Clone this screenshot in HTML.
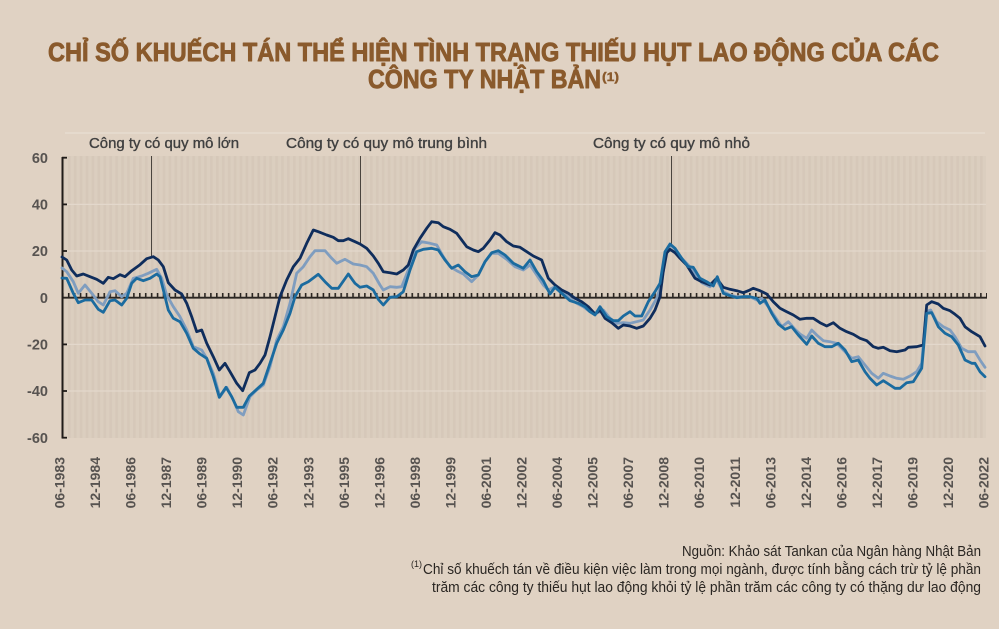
<!DOCTYPE html>
<html><head><meta charset="utf-8"><style>
html,body{margin:0;padding:0;background:#e0d2c3;}
svg{display:block;}
text{font-family:"Liberation Sans",sans-serif;}
</style></head><body>
<svg width="999" height="629" viewBox="0 0 999 629" xmlns="http://www.w3.org/2000/svg">
<defs>
<pattern id="st" x="62" y="0" width="5.923" height="10" patternUnits="userSpaceOnUse">
<rect x="0" y="0" width="5.923" height="10" fill="#dbcebf"/>
<rect x="0" y="0" width="2.6" height="10" fill="#d6c8b9"/>
</pattern>
<pattern id="tk" x="62" y="293" width="5.923" height="5" patternUnits="userSpaceOnUse">
<rect x="0" y="0" width="1.6" height="5" fill="#2b2622"/>
</pattern>
</defs>
<rect width="999" height="629" fill="#e0d2c3"/>

<!-- Title -->
<g fill="#8a5a2c" stroke="#8a5a2c" stroke-width="0.9" stroke-linejoin="round">
<text x="48" y="61" font-size="26" font-weight="bold" textLength="891" lengthAdjust="spacingAndGlyphs">CHỈ SỐ KHUẾCH TÁN THỂ HIỆN TÌNH TRẠNG THIẾU HỤT LAO ĐỘNG CỦA CÁC</text>
<text x="368" y="88" font-size="26" font-weight="bold" textLength="233" lengthAdjust="spacingAndGlyphs">CÔNG TY NHẬT BẢN</text>
<text x="602" y="81" font-size="12" font-weight="bold" stroke-width="0.4" textLength="17" lengthAdjust="spacingAndGlyphs">(1)</text>
</g>

<!-- top faint line -->
<line x1="65" y1="133" x2="985" y2="133" stroke="#e8ded3" stroke-width="1.2"/>

<!-- annotation labels -->
<g font-size="14.5" fill="#404040" stroke="#404040" stroke-width="0.35">
<text x="89" y="148" textLength="150" lengthAdjust="spacingAndGlyphs">Công ty có quy mô lớn</text>
<text x="286" y="148" textLength="201" lengthAdjust="spacingAndGlyphs">Công ty có quy mô trung bình</text>
<text x="593" y="148" textLength="157" lengthAdjust="spacingAndGlyphs">Công ty có quy mô nhỏ</text>
</g>

<!-- plot background -->
<rect x="62" y="156" width="924" height="282" fill="url(#st)"/>
<g stroke="#e3d8cc" stroke-width="1.2">
<line x1="62" y1="204.4" x2="986" y2="204.4"/>
<line x1="62" y1="251" x2="986" y2="251"/>
<line x1="62" y1="344.4" x2="986" y2="344.4"/>
<line x1="62" y1="391" x2="986" y2="391"/>
</g>

<!-- annotation vertical lines -->
<g stroke="#3a3530" stroke-width="0.9">
<line x1="151.5" y1="156" x2="151.5" y2="257"/>
<line x1="360.5" y1="156" x2="360.5" y2="244"/>
<line x1="671.5" y1="156" x2="671.5" y2="247"/>
</g>

<!-- zero line with ticks -->
<rect x="62" y="293" width="925" height="5" fill="url(#tk)"/>
<line x1="62" y1="297.7" x2="987" y2="297.7" stroke="#2b2622" stroke-width="1.8"/>

<!-- y axis -->
<line x1="62.5" y1="157" x2="62.5" y2="438.5" stroke="#1f1b18" stroke-width="2"/>
<g stroke="#1f1b18" stroke-width="1.8">
<line x1="62" y1="157.7" x2="67" y2="157.7"/>
<line x1="62" y1="204.4" x2="67" y2="204.4"/>
<line x1="62" y1="251" x2="67" y2="251"/>
<line x1="62" y1="344.4" x2="67" y2="344.4"/>
<line x1="62" y1="391" x2="67" y2="391"/>
<line x1="62" y1="437.7" x2="67" y2="437.7"/>
</g>
<g font-size="14.5" font-weight="bold" fill="#575350" text-anchor="end">
<text x="48" y="163">60</text>
<text x="48" y="209.5">40</text>
<text x="48" y="256">20</text>
<text x="48" y="303">0</text>
<text x="48" y="349.5">-20</text>
<text x="48" y="396">-40</text>
<text x="48" y="443">-60</text>
</g>

<!-- series -->
<g fill="none" stroke-width="2.8" stroke-linejoin="round" stroke-linecap="round">
<polyline stroke="#7f9dbf" points="62,268 66.7,271.7 73.3,281.7 78.3,293.3 85,285 91.7,293.3 98.3,301.7 103.3,305 110,291.7 115,290.7 121.7,296.7 126.7,293.3 133.3,278.3 141.7,276 148.3,273.3 156.7,269.3 161.7,278.3 166.7,295 173.3,306.7 180,316.7 186.7,330 193.3,346.7 201.7,350 206.7,358.3 213.3,373.3 220,396.7 226.7,387.3 233.3,400 238.3,411.7 243.3,415 250,396.7 256.7,390 263.3,385 270,366.7 276.7,340 283.3,326.7 290,303.3 296.7,273.3 303.3,266.7 310,256.7 315,250.7 325,250.7 331.7,258.3 336.7,263.3 345,259.3 353.3,264 360,265 366.7,266.7 373.3,273.3 380,285 383.3,290 390,286.7 396.7,287.3 401.7,286.7 408.3,270 415,248.3 421.7,241.7 430,243.3 436.7,245 443.3,256.7 450,266.7 456.7,270.7 463.3,274 471.7,281.7 478.3,275 485,261.7 491.7,253.3 498.3,253.3 506.7,259.3 515,266.7 523.3,270 530,265 536.7,275 543.3,285 548.3,290 555,286.7 561.7,291.7 570,298.3 576.7,303.3 583.3,306.7 590,311.7 596.7,313.3 603.3,310 610,318.3 616.7,323.3 623.3,322.7 630,323.3 636.7,321.7 643.3,320 650,310 656.7,298.3 661.7,283.3 666,251.7 671,245 675,249.3 681.7,258.3 688.3,265 695,273.3 701.7,282.7 710,286.7 716.7,280 723.3,291.7 730,295 736.7,296.7 743.3,296.7 750,296.7 756.7,300 761.7,298.3 768.3,306.7 775,316.7 781.7,326.7 788.3,321.7 795,329.3 800,334 806.7,338.3 811.7,330 816.7,335 823.3,340.7 830,341.7 836.7,343.3 843.3,350 851.7,358.3 858.3,356.7 865,365 871.7,373.3 878.3,378.3 883.3,373.3 890,376 896.7,378.3 903.3,379.3 910,376 916.7,371.7 921.7,363.3 926,311.7 930.7,310 936.7,321.7 943.3,326.7 950,330 955,336.7 961.7,348.3 968.3,351.7 975,351.7 980,360 985,367.3"/>
<polyline stroke="#0f2d5c" points="62,257 66.7,260 71.7,270 76.7,276 83.3,274 90,276.7 96.7,279.3 103.3,283.3 108.3,277.3 113.3,278.7 120,274.7 125,276.7 131.7,270.7 140,264.7 146.7,258.7 153.3,256.7 158.3,260 163.3,266.7 168.3,282.7 175,290 181.7,294 186.7,303.3 191.7,316.7 196.7,331.7 201.7,330 206.7,343.3 213.3,356.7 219.3,370 225,363.3 230,371.7 236.7,383.3 242.7,390.7 249.3,372.7 255,370 260,363.3 265,355 270,336.7 275,316.7 280,296.7 286.7,280 293.3,266.7 300,258.3 306.7,243.3 313.3,230 318.3,231.7 326.7,235 333.3,237.3 338.3,240.7 343.3,240.7 348.3,238.7 355,241.7 360,244 366.7,248.3 373.3,256 378.3,263.3 383.3,271.7 390,272.7 396.7,274 403.3,270 408.3,265 413.3,250 420,238.3 426.7,228.3 431.7,221.7 438.3,222.7 443.3,226.7 450,229.3 456.7,233.3 461.7,240 466.7,246.7 473.3,250 478.3,251.7 483.3,248.3 490,240 495,232.7 500,235 506.7,241.7 513.3,246 520,247.3 526.7,251.7 533.3,256 541.7,260 548.3,278.3 555,285 561.7,290 568.3,293.3 575,298.3 581.7,301.7 588.3,306.7 595,314 600,310 605,318.3 611.7,322.7 618.3,328.3 623.3,325 630,326 636.7,328.3 643.3,326 650,318.3 655,310 660,296.7 663,273 666.7,253 670,249.3 675,252.7 680,258.3 686.7,265 695,278.3 701.7,281.7 710,285 716.7,278.3 723.3,287.3 730,289.3 736.7,290.7 743.3,292.7 748.3,290.7 753.3,288.3 760,290.7 766.7,294 773.3,301.7 780,308.3 786.7,311.7 793.3,315 800,319.3 806.7,318.3 813.3,318.3 820,322.7 826.7,326 833.3,322.7 840,328.3 846.7,331.7 853.3,334.3 860,338.3 866.7,340.7 873.3,346.7 878.3,348.3 883.3,347.3 890,350.7 896.7,351.7 905,350 908.3,347.3 916.7,346.7 923.3,345 926.7,305 931.7,301.7 938.3,304 943.3,308.3 950,310.7 955,314.3 960,318.3 965,326.7 971.7,331.7 980,336.7 985,346"/>
<polyline stroke="#1b6b9f" points="62,278 66.7,278.3 73.3,293.3 78.3,302.7 85,300 91.7,300 98.3,309.3 103.3,312.3 110,300.7 115,300 121.7,305 126.7,298.3 131.7,283.3 136.7,278.3 143.3,280.7 150,278.3 156.7,274 160,276.7 165,296.7 168.3,310 173.3,318.3 180,321.7 186.7,333.3 193.3,348.3 200,354 206.7,358.3 213.3,376.7 219.3,397.3 226,387.3 231.7,396.7 236.7,407.3 243.3,407.3 249.3,396 256.7,389.3 263.3,383.3 270,363.3 276.7,343.3 283.3,330 290,313.3 295,296.7 301.7,285 308.3,281.7 318.3,274.3 325,281.7 331.7,288.3 338.3,288.3 348.3,274 355,283.3 360,287.3 366.7,286 373.3,290 378.3,299.3 383.3,305 390,297.3 396.7,296.7 403.3,291.7 410,270 416.7,251.7 423.3,249.3 431.7,248.3 438.3,250 445,260 451.7,268.3 458.3,265 465,271.7 471.7,276.7 478.3,275 485,261.7 491.7,252.7 498.3,250.7 505,255 513.3,263.3 523.3,268.3 530,260 536.7,271.7 543.3,280.7 550,294 555,287.3 561.7,293.3 570,300.7 578.3,303.3 585,306.7 590,311.7 595,315 600,306.7 606.7,316.7 613.3,320.7 618.3,320.7 623.3,316 630,311.7 635,316 641.7,316 648.3,301.7 655,291.7 660,283.3 665,251.7 670,244 675,248.3 681.7,258.3 688.3,266.7 693.3,267.3 700,278.3 706.7,281.7 713.3,286 717.3,276.7 723.3,293.3 730,295.7 736.7,297.7 743.3,296.7 750,296.7 756.7,298.3 760,303.3 765,300 771.7,313.3 778.3,324 785,329.3 791.7,326.7 798.3,335 806.7,344.3 811.7,336 818.3,343.3 825,346.7 831.7,346.7 838.3,343.3 845,350 851.7,361.7 858.3,360 865,371.7 870,378.3 876.7,385 883.3,380.7 890,385 895,388.3 900,388.3 906.7,382.7 913.3,381.7 921.7,368.3 926.7,313.3 931.7,312.7 938.3,326.7 945,333.3 951.7,336.7 958.3,345 965,360 971.7,363.3 975,363.3 980,371.7 985,376.7"/>
</g>

<!-- x labels -->
<g font-size="14" font-weight="bold" fill="#575350" text-anchor="end">
<text transform="translate(64.5,457) rotate(-90)">06-1983</text>
<text transform="translate(100.0,457) rotate(-90)">12-1984</text>
<text transform="translate(135.6,457) rotate(-90)">06-1986</text>
<text transform="translate(171.1,457) rotate(-90)">12-1987</text>
<text transform="translate(206.7,457) rotate(-90)">06-1989</text>
<text transform="translate(242.2,457) rotate(-90)">12-1990</text>
<text transform="translate(277.7,457) rotate(-90)">06-1992</text>
<text transform="translate(313.3,457) rotate(-90)">12-1993</text>
<text transform="translate(348.8,457) rotate(-90)">06-1995</text>
<text transform="translate(384.4,457) rotate(-90)">12-1996</text>
<text transform="translate(419.9,457) rotate(-90)">06-1998</text>
<text transform="translate(455.4,457) rotate(-90)">12-1999</text>
<text transform="translate(491.0,457) rotate(-90)">06-2001</text>
<text transform="translate(526.5,457) rotate(-90)">12-2002</text>
<text transform="translate(562.1,457) rotate(-90)">06-2004</text>
<text transform="translate(597.6,457) rotate(-90)">12-2005</text>
<text transform="translate(633.1,457) rotate(-90)">06-2007</text>
<text transform="translate(668.7,457) rotate(-90)">12-2008</text>
<text transform="translate(704.2,457) rotate(-90)">06-2010</text>
<text transform="translate(739.8,457) rotate(-90)">12-2011</text>
<text transform="translate(775.3,457) rotate(-90)">06-2013</text>
<text transform="translate(810.8,457) rotate(-90)">12-2014</text>
<text transform="translate(846.4,457) rotate(-90)">06-2016</text>
<text transform="translate(881.9,457) rotate(-90)">12-2017</text>
<text transform="translate(917.5,457) rotate(-90)">06-2019</text>
<text transform="translate(953.0,457) rotate(-90)">12-2020</text>
<text transform="translate(988.5,457) rotate(-90)">06-2022</text>
</g>

<!-- footnotes -->
<g font-size="14.5" fill="#2a2622">
<text x="682" y="556" textLength="299" lengthAdjust="spacingAndGlyphs">Nguồn: Khảo sát Tankan của Ngân hàng Nhật Bản</text>
<text x="411" y="567" font-size="9.5" textLength="11" lengthAdjust="spacingAndGlyphs">(1)</text>
<text x="423" y="574" textLength="558" lengthAdjust="spacingAndGlyphs">Chỉ số khuếch tán về điều kiện việc làm trong mọi ngành, được tính bằng cách trừ tỷ lệ phần</text>
<text x="432" y="592" textLength="549" lengthAdjust="spacingAndGlyphs">trăm các công ty thiếu hụt lao động khỏi tỷ lệ phần trăm các công ty có thặng dư lao động</text>
</g>
</svg>
</body></html>
